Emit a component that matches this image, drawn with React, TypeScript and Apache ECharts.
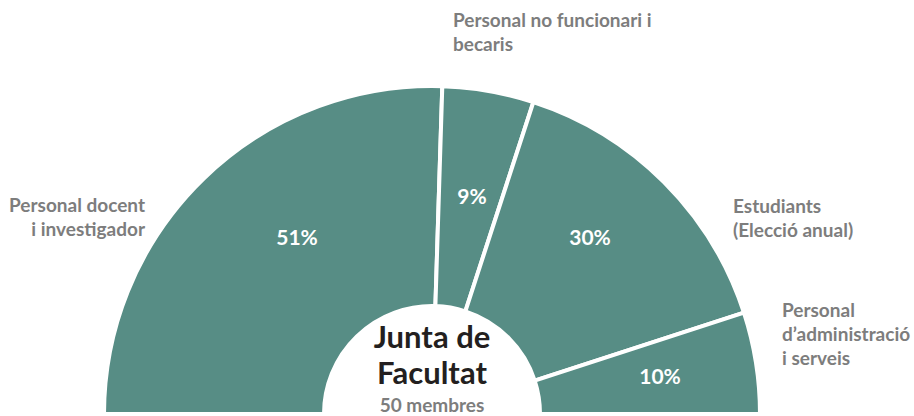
import React, { useEffect, useRef } from "react";
import * as echarts from "echarts";

const categories = [
  "Personal docent\ni investigador",
  "Personal no funcionari i\nbecaris",
  "Estudiants\n(Elecció anual)",
  "Personal\nd’administració\ni serveis",
];
const shares = [51, 9, 30, 10];
const centerTitle = ["Junta de", "Facultat"];
const centerSubtitle = "50 membres";

const FONT = "Lato, 'Open Sans', sans-serif";
const CX = 432;
const CY = 414;

// label placement (layout only)
const pctPos = [
  [297, 236],
  [472, 195],
  [590, 236],
  [660, 375],
];
const namePos: Array<[number, number, string]> = [
  [145, 216, "right"],
  [453, 31, "left"],
  [733, 217, "left"],
  [782, 333, "left"],
];

export default function App() {
  const ref = useRef<HTMLDivElement>(null);
  useEffect(() => {
    if (!ref.current) return;
    const chart = echarts.init(ref.current, null, { renderer: "svg" });
    const data = categories.map((c, i) => ({ name: c, value: shares[i] }));
    chart.setOption({
      animation: false,
      backgroundColor: "#ffffff",
      series: [
        {
          type: "pie",
          center: [CX, CY],
          radius: [108, 328],
          startAngle: 180,
          endAngle: 0,
          clockwise: true,
          silent: true,
          data,
          itemStyle: { color: "#578d85", borderColor: "#ffffff", borderWidth: 4 },
          label: {
            show: true,
            position: "inside",
            formatter: (p: any) => p.value + "%",
            color: "#ffffff",
            fontFamily: FONT,
            fontWeight: "bold",
            fontSize: 21,
          },
          labelLine: { show: false },
          labelLayout: (p: any) => ({
            x: pctPos[p.dataIndex][0],
            y: pctPos[p.dataIndex][1],
            align: "center",
            verticalAlign: "middle",
          }),
        },
        {
          type: "pie",
          center: [CX, CY],
          radius: [108, 328],
          startAngle: 180,
          endAngle: 0,
          clockwise: true,
          silent: true,
          data,
          itemStyle: { color: "rgba(0,0,0,0)", borderWidth: 0 },
          label: {
            show: true,
            position: "outside",
            formatter: (p: any) => p.name,
            color: "#7d7d7d",
            fontFamily: FONT,
            fontWeight: "bold",
            fontSize: 19,
            lineHeight: 24,
            overflow: "none",
            width: 300,
          },
          labelLine: { show: false },
          labelLayout: (p: any) => ({
            x: namePos[p.dataIndex][0],
            y: namePos[p.dataIndex][1],
            align: namePos[p.dataIndex][2],
            verticalAlign: "middle",
          }),
        },
      ],
      graphic: [
        {
          type: "text",
          x: CX,
          y: 318,
          style: {
            text: centerTitle.join("\n"),
            fill: "#231f20",
            font: `bold 31px ${FONT}`,
            lineHeight: 36,
            align: "center",
            verticalAlign: "top",
          },
        },
        {
          type: "text",
          x: CX,
          y: 395,
          style: {
            text: centerSubtitle,
            fill: "#7d7d7d",
            font: `bold 19px ${FONT}`,
            align: "center",
            verticalAlign: "top",
          },
        },
      ],
    });
    return () => chart.dispose();
  }, []);
  return <div ref={ref} style={{ width: 914, height: 416, position: "absolute", left: 0, top: 0 }} />;
}
